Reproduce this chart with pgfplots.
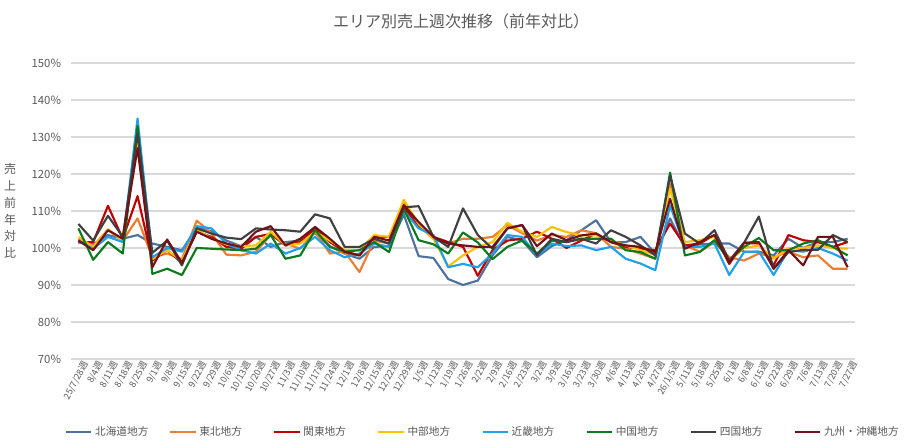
\documentclass[border=0pt]{standalone}
\usepackage{pgfplots}
\usepackage{pgfplotstable}
\pgfplotsset{compat=1.18}
\usepackage{fontspec}
\setmainfont{Noto Sans CJK JP}
\definecolor{hk}{RGB}{78,114,160}
\definecolor{th}{RGB}{237,125,49}
\definecolor{kt}{RGB}{192,0,0}
\definecolor{cb}{RGB}{255,192,0}
\definecolor{kk}{RGB}{32,160,232}
\definecolor{cg}{RGB}{10,122,30}
\definecolor{sk}{RGB}{64,64,64}
\definecolor{ky}{RGB}{112,18,24}
\definecolor{txt}{RGB}{89,89,89}
\definecolor{grd}{RGB}{217,217,217}
\pgfplotstableread{
i H T K C Ki G S Ky
0 101.6 102.5 101.5 103 102 105.3 106.5 102
1 101 100.5 101.6 100.3 99.8 96.8 102 99.4
2 103.5 105 111.4 105 103 101.6 108.7 104.8
3 102.5 102 102.5 102 101.6 98.5 103 102.5
4 103.5 108 114 130 135 133 131 127
5 101.2 97.5 96.6 97 97.5 93 98.7 94.8
6 100.3 98.5 99.4 99.4 100 94.4 102 102.3
7 99.4 97 96 96.5 99 92.7 95.3 96
8 105.5 107.4 104.4 105 105.9 100 105.3 104.4
9 104.5 104 103 102.5 105.3 99.8 103.9 102.5
10 102 98.2 100.3 101 101.2 99.6 102.8 101.2
11 100.5 98 99.8 100.5 99.4 99.4 102.4 100.3
12 103 99 103 100.7 98.5 99.8 105.3 104.4
13 100.3 103.5 103.8 104.4 101.2 103.5 105 105.9
14 101.6 101.2 100.7 100.7 98.5 97.1 104.8 100.7
15 102 99.8 101.6 101.2 100 98 104.4 102.5
16 104 104.4 105.3 104.4 103 104.8 109.1 105.7
17 100.5 98.5 101.6 102 99.4 100.3 108 102.5
18 98.5 99 99 99.5 97.5 99 100.3 99
19 97.1 93.5 98 99.4 98.5 99.4 100.3 98
20 100.3 102 103 103.5 101.2 101.6 102.5 103
21 100.5 101.2 103 103 100.3 98.9 101.2 102
22 109 112 111 113 110 110.5 111 111.6
23 97.8 106 106 106.5 105.3 102.1 111.3 107
24 97.3 102.5 103 102.5 103.5 101 103 103
25 91.6 101.2 101.6 95 94.8 98.5 100.3 101.2
26 90 102.5 100.3 98 95.7 104.2 110.7 100.7
27 91.2 102.5 92.5 100.3 94.8 101.5 103.5 100.3
28 98 103 99.4 101.6 98.5 97 99.8 100.3
29 103 106.2 102 106.8 103.5 100.3 105.3 105.3
30 102 104 102.5 104.4 103 102 106.2 106.2
31 97.5 102 104.4 103 98 98.5 98 100.5
32 100.5 103.5 102.5 105.7 101.2 102 102.5 103.9
33 102.1 103 100 104.3 100.5 101.6 101.6 102.1
34 104.8 104.8 102 103.4 100.7 102.5 102.5 103.4
35 107.5 104 103.9 103.4 99.4 102.5 101.2 103.9
36 101.6 100.3 101.6 102 100.3 102.5 104.8 101.6
37 101.6 99.8 100.3 100.7 97.1 99.4 103 100.7
38 103 98.5 99.8 99.4 95.8 98.9 100.7 100.3
39 98.5 97.1 99.4 98.2 94 97.1 98 98.9
40 108 117.4 106.6 116 111.5 120.4 119.6 113.3
41 100 100.7 100.7 101.6 100.3 98 103.9 99.8
42 101 99 101.2 102.1 100.3 98.9 101.2 101.6
43 101.2 101.6 103.5 103 101.2 102.1 104.8 103.5
44 101.2 97.5 95.7 96.4 92.7 96.6 96.6 96
45 99 96.6 101.4 100 98.9 100.3 101.4 101.4
46 99 98.5 101.2 100.7 99 102.7 108.5 101.6
47 98 97.5 95.3 97.1 92.7 99.4 94.4 94.4
48 102.5 99 103.5 100 99.4 99.4 98.9 99.4
49 100 97.5 102.1 100 99 101.2 99.5 95.3
50 101.6 98 101.6 100.7 100 102.1 99.5 103
51 101.6 94.4 100.3 100 98.5 100.3 103.5 103
52 102.5 94.4 101.6 99.8 96.6 98 101.6 94.8
}\datatable
\begin{document}
\begin{tikzpicture}
\useasboundingbox (0,0) rectangle (682.5pt,330.75pt);
\node[text=txt, font=\fontsize{12}{14}\selectfont] at (345.75pt,315pt) {エリア別売上週次推移（前年対比）};
\node[text=txt, font=\fontsize{9}{12.6}\selectfont, align=center] at (7.5pt,172.5pt) {売\\上\\前\\年\\対\\比};
\begin{axis}[
  at={(53.25pt,61.5pt)}, anchor=south west,
  scale only axis, width=588pt, height=222pt,
  xmin=-0.5, xmax=52.5, ymin=70, ymax=150,
  ytick={70,80,...,150},
  xtick={0,...,52},
  xticklabels={25/7/28週,8/4週,8/11週,8/18週,8/25週,9/1週,9/8週,9/15週,9/22週,9/29週,10/6週,10/13週,10/20週,10/27週,11/3週,11/10週,11/17週,11/24週,12/1週,12/8週,12/15週,12/22週,12/29週,1/5週,1/12週,1/19週,1/26週,2/2週,2/9週,2/16週,2/23週,3/2週,3/9週,3/16週,3/23週,3/30週,4/6週,4/13週,4/20週,4/27週,26/1/5週,5/11週,5/18週,5/25週,6/1週,6/8週,6/15週,6/22週,6/29週,7/6週,7/13週,7/20週,7/27週},
  /pgf/number format/assume math mode=true,
  yticklabel={\pgfmathprintnumber{\tick}\%},
  yticklabel style={text=txt, font=\fontsize{8.5}{10}\selectfont, anchor=east, xshift=-4pt},
  xticklabel style={text=txt, font=\fontsize{6.8}{8}\selectfont, rotate=62, anchor=east, inner sep=0.5pt, yshift=-6pt, xshift=1pt},
  major tick length=0pt,
  axis line style={draw=none},
  ymajorgrids, grid style={color=grd, line width=0.8pt},
  legend columns=8,
  legend cell align=left,
  legend style={at={(-0.008,-0.247)}, anchor=west, draw=none, fill=none, inner sep=0pt,
    font=\fontsize{8}{10}\selectfont, text=txt,
    /tikz/every even column/.append style={column sep=1pt}},
  legend image code/.code={\draw[#1, line width=1.6pt] (0pt,0pt) -- (19pt,0pt);},
  every axis plot/.append style={line width=1.6pt, mark=none, line join=round},
]
\addplot[hk] table[x=i,y=H]{\datatable};
\addplot[th] table[x=i,y=T]{\datatable};
\addplot[kt] table[x=i,y=K]{\datatable};
\addplot[cb] table[x=i,y=C]{\datatable};
\addplot[kk] table[x=i,y=Ki]{\datatable};
\addplot[cg] table[x=i,y=G]{\datatable};
\addplot[sk] table[x=i,y=S]{\datatable};
\addplot[ky] table[x=i,y=Ky]{\datatable};
\legend{\makebox[52.5pt][l]{北海道地方},\makebox[52.5pt][l]{東北地方},\makebox[52.5pt][l]{関東地方},\makebox[52.5pt][l]{中部地方},\makebox[52.5pt][l]{近畿地方},\makebox[52.5pt][l]{中国地方},\makebox[52.5pt][l]{四国地方},九州・沖縄地方}
\end{axis}
\end{tikzpicture}
\end{document}
